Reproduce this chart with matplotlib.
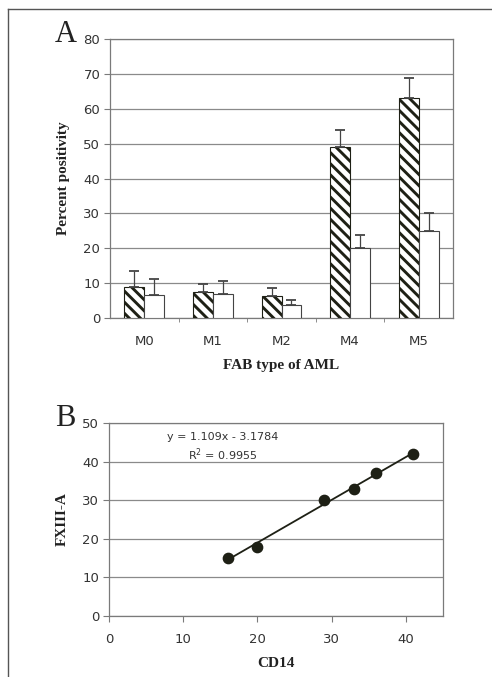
import numpy as np
import matplotlib
matplotlib.use('Agg')
import matplotlib.pyplot as plt
from matplotlib.lines import Line2D

# panel A data
fab_types = ['M0', 'M1', 'M2', 'M4', 'M5']
hatched_vals = [9.0, 7.5, 6.2, 49.0, 63.0]
hatched_err = [4.5, 2.3, 2.3, 5.0, 5.8]
white_vals = [6.5, 7.0, 3.8, 20.0, 25.0]
white_err = [4.7, 3.7, 1.4, 3.7, 5.0]

# panel B data
cd14 = [16, 20, 29, 33, 36, 41]
fxiii = [15, 18, 30, 33, 37, 42]
slope = 1.109
intercept = -3.1784
r2 = 0.9955

dark = '#1e2015'
grid_c = '#8a8a8a'
spine_c = '#7a7a7a'
text_c = '#333333'

plt.rcParams['hatch.linewidth'] = 2.1
plt.rcParams['hatch.color'] = dark

W, H = 492, 677
fig = plt.figure(figsize=(W / 100, H / 100), dpi=100)

def box(l, t, r, b):
    return [l / W, 1 - b / H, (r - l) / W, (b - t) / H]

# outer frame lines
fig.add_artist(Line2D([8 / W, 8 / W], [0, 1 - 9 / H], color='#555555', lw=1.0))
fig.add_artist(Line2D([8 / W, 1], [1 - 9 / H, 1 - 9 / H], color='#555555', lw=1.0))

sans = ['DejaVu Sans']
serif = ['Liberation Serif', 'DejaVu Serif']

# ---- panel A ----
axA = fig.add_axes(box(110, 39, 453, 318))
x = np.arange(len(fab_types))
bw = 0.29
axA.bar(x - bw / 2, hatched_vals, bw, facecolor='white', edgecolor=dark,
        hatch='\\\\\\', linewidth=0.8, zorder=3)
axA.bar(x + bw / 2, white_vals, bw, facecolor='white', edgecolor='#444444',
        linewidth=0.8, zorder=3)
axA.errorbar(x - bw / 2, hatched_vals, yerr=[np.zeros(5), hatched_err], fmt='none',
             ecolor='#444444', elinewidth=0.9, capsize=3.5, capthick=1.3, zorder=4)
axA.errorbar(x + bw / 2, white_vals, yerr=[np.zeros(5), white_err], fmt='none',
             ecolor='#444444', elinewidth=0.9, capsize=3.5, capthick=1.3, zorder=4)
axA.set_xlim(-0.5, len(fab_types) - 0.5)
axA.set_ylim(0, 80)
axA.set_yticks(range(0, 81, 10))
axA.set_xticks(x)
axA.set_xticklabels(fab_types)
axA.set_xticks(np.arange(0.5, len(fab_types) - 0.5, 1), minor=True)
axA.tick_params(axis='x', which='major', length=0, pad=12)
axA.tick_params(axis='x', which='minor', length=3, color=spine_c)
axA.tick_params(axis='y', length=4, color=spine_c, pad=3)
axA.yaxis.grid(True, color=grid_c, lw=0.9)
axA.set_axisbelow(True)
for s in axA.spines.values():
    s.set_color(spine_c)
    s.set_linewidth(0.9)
for lab in axA.get_xticklabels() + axA.get_yticklabels():
    lab.set_family(sans)
    lab.set_fontsize(9.5)
    lab.set_color(text_c)
axA.set_ylabel('Percent positivity', family=serif, fontweight='bold',
               fontsize=11, color='#222222', labelpad=10)
axA.set_xlabel('FAB type of AML', family=serif, fontweight='bold',
               fontsize=11, color='#222222', labelpad=8)
fig.text(55 / W, 1 - 34 / H, 'A', family=serif, fontsize=22, color='#222222',
         va='center', ha='left')

# ---- panel B ----
axB = fig.add_axes(box(109, 423, 443, 616))
fit_x = np.array([min(cd14), max(cd14)])
axB.plot(fit_x, slope * fit_x + intercept, color=dark, lw=1.3, zorder=3)
axB.scatter(cd14, fxiii, s=55, color=dark, zorder=4)
axB.set_xlim(0, 45)
axB.set_ylim(0, 50)
axB.set_xticks(range(0, 41, 10))
axB.set_yticks(range(0, 51, 10))
axB.tick_params(axis='x', length=4, color=spine_c, pad=8)
axB.tick_params(axis='y', length=4, color=spine_c, pad=3)
axB.yaxis.grid(True, color=grid_c, lw=0.9)
axB.set_axisbelow(True)
for s in axB.spines.values():
    s.set_color(spine_c)
    s.set_linewidth(0.9)
for lab in axB.get_xticklabels() + axB.get_yticklabels():
    lab.set_family(sans)
    lab.set_fontsize(9.5)
    lab.set_color(text_c)
axB.set_ylabel('FXIII-A', family=serif, fontweight='bold',
               fontsize=11, color='#222222', labelpad=10)
axB.set_xlabel('CD14', family=serif, fontweight='bold',
               fontsize=11, color='#222222', labelpad=8)
axB.text(0.34, 0.925, 'y = %.3fx - %.4f' % (slope, -intercept), transform=axB.transAxes,
         ha='center', va='center', family=sans, fontsize=8, color=text_c)
axB.text(0.34, 0.835, 'R$^2$ = %.4f' % r2, transform=axB.transAxes,
         ha='center', va='center', family=sans, fontsize=8, color=text_c)
fig.text(55 / W, 1 - 418 / H, 'B', family=serif, fontsize=22, color='#222222',
         va='center', ha='left')

fig.savefig('out.png', dpi=100)
